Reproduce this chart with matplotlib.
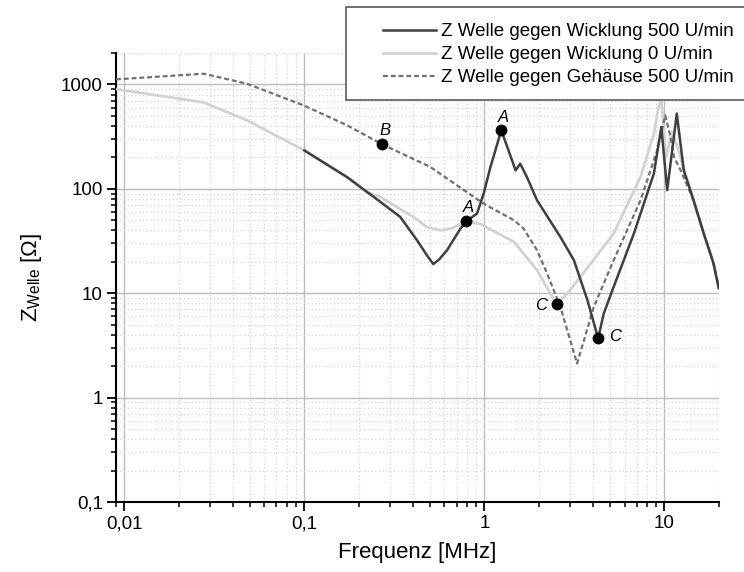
import matplotlib
matplotlib.use('Agg')
import matplotlib.pyplot as plt
from matplotlib.patches import Rectangle
from matplotlib.ticker import LogLocator, NullFormatter

plt.rcParams['font.family'] = ['Liberation Sans', 'DejaVu Sans']
plt.rcParams['mathtext.fontset'] = 'custom'
plt.rcParams['mathtext.rm'] = 'Liberation Sans'
plt.rcParams['mathtext.it'] = 'Liberation Sans:italic'

# Z Welle gegen Wicklung 500 U/min
f_w500 = [0.1, 0.173, 0.224, 0.264, 0.341, 0.423, 0.48, 0.52, 0.56, 0.62, 0.736, 0.794,
          0.91, 0.99, 1.08, 1.15, 1.24, 1.34, 1.49, 1.58, 1.72, 1.96, 2.64, 3.14, 3.73,
          4.28, 4.6, 5.22, 6.76, 8.73, 9.6, 10.35, 11.7, 12.8, 14.5, 16.5, 18.7, 20]
z_w500 = [233, 129, 92.6, 75, 53.7, 32, 23, 19, 21, 25.8, 41.6, 48.9,
          58, 90, 162, 233, 363, 251, 150, 174, 130, 77.6, 34.6, 20.7, 8.6,
          3.7, 6.4, 11.5, 37.3, 140, 390, 97, 525, 150, 77.6, 37.5, 19.4, 11.2]

# Z Welle gegen Wicklung 0 U/min
f_w0 = [0.009, 0.0275, 0.048, 0.1, 0.173, 0.224, 0.264, 0.403, 0.48, 0.57, 0.66, 0.72,
        0.794, 0.95, 1.46, 1.96, 2.38, 2.54, 2.88, 3.41, 5.22, 7.36, 8.73, 9.31, 9.6,
        10.2, 11.0, 12.0, 13.0, 14.5, 16.5, 18.7, 20]
z_w0 = [900, 673, 453, 233, 129, 92.6, 83.6, 53.7, 43, 40, 42, 45,
        49, 46, 31, 16.6, 9.2, 7.85, 9.9, 14.3, 37.3, 130, 337, 630, 720,
        200, 350, 230, 140, 77.6, 37.5, 19.4, 11.2]

# Z Welle gegen Gehaeuse 500 U/min
f_g500 = [0.009, 0.0276, 0.048, 0.099, 0.173, 0.27, 0.5, 0.99, 1.2, 1.46, 1.65, 1.96,
          2.23, 2.64, 3.27, 4.05, 5.22, 7.36, 9.1, 10.1, 10.8, 11.3, 12.3, 14.5, 16.5,
          18.7, 20]
z_g500 = [1117, 1265, 1015, 630, 405, 267, 162, 72, 60, 50, 41.6, 25.8,
          15.4, 7.4, 2.12, 7.4, 20.7, 77.6, 233, 505, 313, 201, 150, 77.6, 37.5,
          19.4, 11.5]

# marked points
pt_labels = ['B', 'A', 'A', 'C', 'C']
pt_f = [0.27, 0.794, 1.24, 2.54, 4.28]
pt_z = [267, 48.9, 363, 7.85, 3.7]
pt_offsets = [(2, 10), (1.5, 10), (1.5, 9), (-11.5, -1), (12, 1.5)]

legend_labels = ['Z Welle gegen Wicklung 500 U/min',
                 'Z Welle gegen Wicklung 0 U/min',
                 'Z Welle gegen Gehäuse 500 U/min']

fig = plt.figure(figsize=(7.44, 5.72), dpi=100)
ax = fig.add_axes([0.156, 0.1224, 0.81, 0.785])

l1, = ax.plot(f_w0, z_w0, color='#d2d2d2', lw=2.0, zorder=3)
l0, = ax.plot(f_w500, z_w500, color='#3f3f3f', lw=1.8, zorder=4)
l2, = ax.plot(f_g500, z_g500, color='#707070', lw=1.6, ls=(0, (2.2, 1.3)), zorder=3)

ax.plot(pt_f, pt_z, 'o', color='black', ms=7.5, zorder=6)
for lab, x, y, off in zip(pt_labels, pt_f, pt_z, pt_offsets):
    ax.annotate(lab, xy=(x, y), xytext=off, textcoords='offset points',
                ha='center', va='center', fontsize=12, style='italic', zorder=7)

ax.set_xscale('log')
ax.set_yscale('log')
ax.set_xlim(0.009, 20)
ax.set_ylim(0.1, 2000)

ax.set_xticks([0.01, 0.1, 1, 10])
ax.set_xticklabels(['0,01', '0,1', '1', '10'])
ax.set_yticks([0.1, 1, 10, 100, 1000])
ax.set_yticklabels(['0,1', '1', '10', '100', '1000'])
ax.xaxis.set_minor_locator(LogLocator(base=10, subs=range(2, 10)))
ax.yaxis.set_minor_locator(LogLocator(base=10, subs=range(2, 10)))
ax.xaxis.set_minor_formatter(NullFormatter())
ax.yaxis.set_minor_formatter(NullFormatter())

ax.grid(True, which='major', color='#bcbcbc', lw=1.0, ls='-')
ax.grid(True, which='minor', color='#d4d4d4', lw=0.9, ls=(0, (1, 2)))
ax.set_axisbelow(True)

# only left and bottom axes
ax.spines['right'].set_color('none')
ax.spines['top'].set_color('none')
ax.spines['left'].set_linewidth(1.5)
ax.spines['bottom'].set_linewidth(1.5)
ax.tick_params(which='major', direction='out', length=6.5, width=1.3, labelsize=13.5, pad=3)
ax.tick_params(which='minor', direction='out', length=3.6, width=1.1)

ax.set_xlabel('Frequenz [MHz]', fontsize=16, labelpad=7)
ax.set_ylabel(r'Z$_{\mathregular{Welle}}$ [Ω]', fontsize=16, labelpad=12)

# legend box sticks out at the right edge
box = Rectangle((346 / 744, 1 - 100 / 572), 0.6, 93 / 572, transform=fig.transFigure,
                facecolor='white', edgecolor='#5a5a5a', lw=1.2, zorder=8)
fig.patches.append(box)
fig.legend([l0, l1, l2], legend_labels, loc='upper left', bbox_to_anchor=(383 / 744, 1 - 23 / 572),
           frameon=False, fontsize=13.5, handlelength=2.8, handletextpad=0.27,
           labelspacing=0.32, borderpad=0, borderaxespad=0).set_zorder(9)

fig.savefig('out.png', dpi=100)
